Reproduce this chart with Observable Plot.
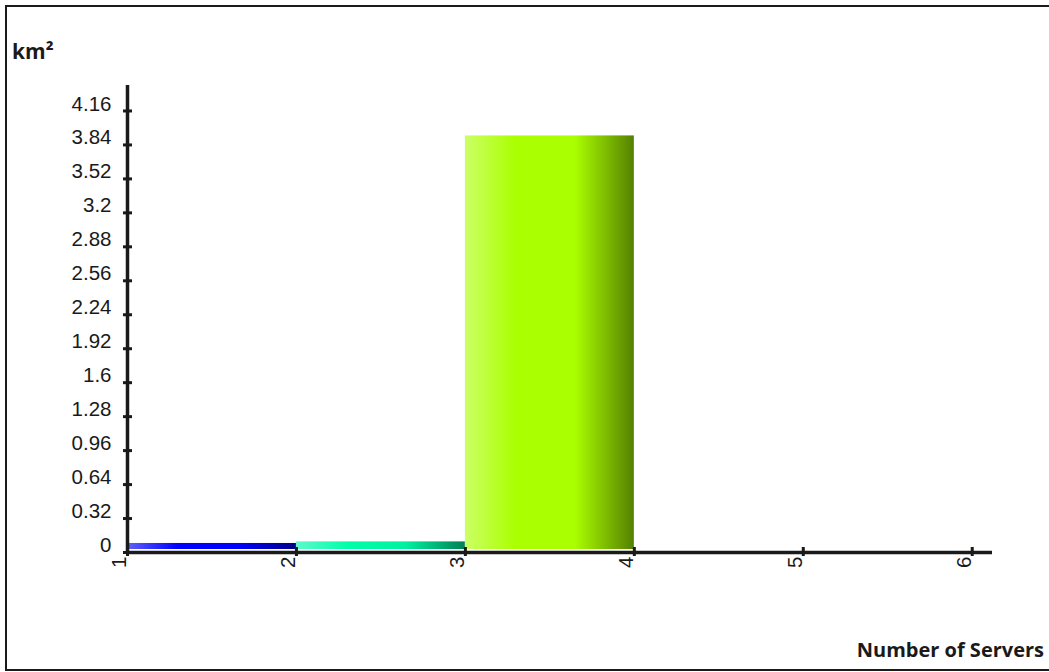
<!DOCTYPE html>
<html>
<head>
<meta charset="utf-8">
<script src="https://cdn.jsdelivr.net/npm/d3@7"></script>
<script src="https://cdn.jsdelivr.net/npm/@observablehq/plot@0.6"></script>
<style>
  body { margin: 0; background: #fff; }
  #wrap { position: relative; width: 1049px; height: 672px; overflow: hidden; background: #fff; }
  #frame { position: absolute; left: 5px; top: 5px; width: 1080px; height: 666px; border: 2px solid #1a1a1a; box-sizing: border-box; }
  #chart { position: absolute; left: 0; top: 0; }
</style>
</head>
<body>
<div id="wrap"><div id="frame"></div><div id="chart"></div></div>
<script>
// ---- data ----
const serverStart = [1, 2, 3];
const serverEnd = [2, 3, 4];
const areaKm2 = [0.085, 0.10, 3.925];
const xTicks = [1, 2, 3, 4, 5, 6];
const xTickLabels = ["1", "2", "3", "4", "5", "6"];
const yTicks = [0, 0.32, 0.64, 0.96, 1.28, 1.6, 1.92, 2.24, 2.56, 2.88, 3.2, 3.52, 3.84, 4.16];
const yTickLabels = ["0", "0.32", "0.64", "0.96", "1.28", "1.6", "1.92", "2.24", "2.56", "2.88", "3.2", "3.52", "3.84", "4.16"];
const yLabel = "km²";
const xLabel = "Number of Servers";
const gradientColors = [
  ["#6262f6", "#0000ff", "#0000ff", "#000088"],
  ["#62f8cc", "#00ffaa", "#00f0a0", "#007f55"],
  ["#ccff66", "#aaff00", "#aaff00", "#558000"]
];

const bars = serverStart.map((s, i) => ({start: s, end: serverEnd[i], value: areaKm2[i]}));
const ink = "#1a1a1a";

const plot = Plot.plot({
  width: 1049,
  height: 672,
  marginLeft: 127,
  marginRight: 57,
  marginTop: 85,
  marginBottom: 120,
  style: {fontFamily: "'Liberation Sans', Arial, sans-serif", fontSize: "20.5px", color: ink, background: "transparent", overflow: "visible"},
  x: {domain: [1, 6.12], axis: null},
  y: {domain: [0, 4.4], axis: null},
  marks: [
    ...bars.map((d, i) => Plot.rect([d], {x1: "start", x2: "end", y1: 0, y2: "value", fill: `url(#barGrad${i})`, insetBottom: 3})),
    Plot.ruleY([0], {stroke: ink, strokeWidth: 3.5}),
    Plot.ruleX([1], {stroke: ink, strokeWidth: 3.5}),
    Plot.axisY(yTicks, {anchor: "left", tickSize: 9, dx: 5, strokeWidth: 3, stroke: ink, fill: "none", label: null}),
    Plot.axisY(yTicks, {anchor: "left", tickSize: 0, tickPadding: 16, dy: -7, fill: ink, tickFormat: (d) => yTickLabels[yTicks.indexOf(d)], label: null}),
    Plot.axisX(xTicks, {anchor: "bottom", tickSize: 9, dy: -5, strokeWidth: 3, stroke: ink, fill: "none", label: null}),
    Plot.axisX(xTicks, {anchor: "bottom", tickSize: 0, tickPadding: 4, tickRotate: -90, dx: -8, fill: ink, tickFormat: (d) => xTickLabels[xTicks.indexOf(d)], label: null})
  ]
});

const svg = d3.select(plot);
const defs = svg.insert("defs", ":first-child");
gradientColors.forEach((cols, i) => {
  const g = defs.append("linearGradient").attr("id", `barGrad${i}`).attr("x1", "0%").attr("x2", "100%").attr("y1", "0%").attr("y2", "0%");
  [0, 0.3, 0.65, 1].forEach((o, j) => g.append("stop").attr("offset", o).attr("stop-color", cols[j]));
});
svg.append("text").attr("x", 12).attr("y", 59).attr("text-anchor", "start")
  .attr("font-family", "'Open Sans', 'Noto Sans', sans-serif").attr("font-weight", "bold").attr("font-size", 21)
  .attr("fill", ink).text(yLabel);
svg.append("text").attr("x", 1044).attr("y", 657).attr("text-anchor", "end")
  .attr("font-family", "'Open Sans', 'Noto Sans', sans-serif").attr("font-weight", "bold").attr("font-size", 20)
  .attr("fill", ink).text(xLabel);

document.getElementById("chart").appendChild(plot);
</script>
</body>
</html>
